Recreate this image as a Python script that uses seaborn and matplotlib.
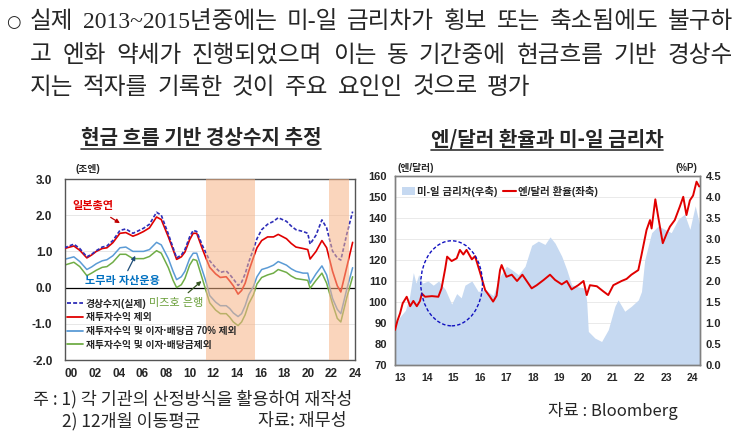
import numpy as np
import pandas as pd
import matplotlib
matplotlib.use("Agg")
import matplotlib.pyplot as plt
import seaborn as sns
from matplotlib.patches import Ellipse, Patch
from matplotlib.lines import Line2D

# --- left chart: cash-flow based current account (trillion yen, 12m avg) ---
cf_year = [1999.4, 2000.2, 2000.7, 2001.3, 2001.7, 2002.1, 2002.6, 2003.0, 2003.5, 2004.1,
           2004.6, 2005.2, 2005.6, 2006.1, 2006.6, 2007.2, 2007.6, 2008.2, 2008.6, 2008.9,
           2009.3, 2009.6, 2010.0, 2010.3, 2010.6, 2011.1, 2011.4, 2011.7, 2012.2, 2012.6,
           2013.1, 2013.4, 2013.7, 2014.1, 2014.4, 2014.7, 2015.0, 2015.4, 2015.7, 2016.1,
           2016.6, 2017.1, 2017.5, 2018.2, 2018.6, 2019.0, 2019.6, 2020.0, 2020.2, 2020.7,
           2021.2, 2021.6, 2022.1, 2022.5, 2022.8, 2023.3, 2023.8]
ca_actual = [1.10, 1.20, 1.08, 0.85, 0.92, 1.02, 1.12, 1.15, 1.30, 1.58,
             1.62, 1.50, 1.56, 1.64, 1.75, 2.08, 2.00, 1.48, 1.10, 0.82,
             0.90, 1.05, 1.40, 1.58, 1.55, 1.15, 0.95, 0.74, 0.55, 0.42,
             0.46, 0.36, 0.24, 0.06, 0.15, 0.38, 0.70, 1.06, 1.35, 1.60,
             1.75, 1.83, 1.93, 1.83, 1.70, 1.60, 1.55, 1.50, 1.20, 1.45,
             1.87, 1.65, 1.01, 0.82, 0.76, 1.47, 2.10]
ca_ex_reinv = [1.08, 1.15, 1.03, 0.82, 0.90, 1.00, 1.08, 1.10, 1.24, 1.50,
               1.52, 1.42, 1.47, 1.55, 1.65, 1.95, 1.88, 1.40, 1.05, 0.78,
               0.85, 0.98, 1.32, 1.50, 1.50, 1.05, 0.80, 0.56, 0.38, 0.28,
               0.30, 0.18, 0.05, -0.18, -0.08, 0.12, 0.45, 0.83, 1.10, 1.30,
               1.40, 1.40, 1.47, 1.35, 1.22, 1.12, 1.08, 1.05, 0.79, 1.00,
               1.30, 1.10, 0.45, 0.05, -0.12, 0.56, 1.25]
ca_ex_70 = [0.78, 0.85, 0.72, 0.50, 0.57, 0.66, 0.74, 0.77, 0.88, 1.10,
            1.12, 1.00, 1.00, 1.00, 1.05, 1.25, 1.18, 0.80, 0.45, 0.22,
            0.30, 0.45, 0.80, 0.95, 0.95, 0.45, 0.15, -0.22, -0.40, -0.50,
            -0.50, -0.58, -0.70, -0.80, -0.72, -0.50, -0.20, 0.03, 0.30, 0.50,
            0.55, 0.62, 0.72, 0.62, 0.52, 0.45, 0.40, 0.40, 0.12, 0.38,
            0.60, 0.35, -0.30, -0.60, -0.72, -0.05, 0.55]
ca_ex_all = [0.62, 0.70, 0.58, 0.33, 0.40, 0.48, 0.56, 0.58, 0.70, 0.92,
             0.92, 0.80, 0.80, 0.80, 0.86, 1.02, 0.95, 0.55, 0.20, 0.00,
             0.08, 0.25, 0.62, 0.78, 0.75, 0.22, -0.10, -0.42, -0.62, -0.72,
             -0.72, -0.82, -0.95, -1.05, -0.95, -0.75, -0.45, -0.20, 0.10, 0.28,
             0.35, 0.40, 0.50, 0.42, 0.32, 0.25, 0.22, 0.20, -0.02, 0.20,
             0.40, 0.12, -0.45, -0.85, -0.95, -0.28, 0.30]
shade_periods = [(2011.4, 2015.5), (2021.8, 2023.5)]
left_xticks = list(range(2000, 2025, 2))
left_xlabels = ["%02d" % (y % 100) for y in left_xticks]
cf_labels = ["경상수지(실제)", "재투자수익 제외",
             "재투자수익 및 이자·배당금 70% 제외", "재투자수익 및 이자·배당금제외"]

# --- right chart: USD/JPY and US-JP rate spread ---
spread_year = [2012.82, 2013.0, 2013.2, 2013.35, 2013.5, 2013.6, 2013.7, 2013.85, 2014.05, 2014.25,
               2014.45, 2014.7, 2014.94, 2015.13, 2015.3, 2015.44, 2015.7, 2015.94, 2016.2, 2016.5,
               2016.75, 2017.0, 2017.2, 2017.45, 2017.7, 2017.95, 2018.2, 2018.45, 2018.64, 2018.83,
               2019.08, 2019.27, 2019.45, 2019.7, 2019.95, 2020.02, 2020.08, 2020.33, 2020.58, 2020.83,
               2021.08, 2021.2, 2021.45, 2021.7, 2021.96, 2022.08, 2022.2, 2022.46, 2022.71, 2022.96,
               2023.2, 2023.46, 2023.7, 2023.9, 2024.1, 2024.28]
spread = [0.95, 1.15, 1.30, 1.60, 2.20, 1.95, 2.15, 1.95, 2.00, 1.90,
          2.00, 1.80, 1.45, 1.70, 1.60, 1.90, 2.00, 1.75, 1.80, 1.65,
          2.10, 2.35, 2.27, 2.15, 2.35, 2.85, 2.95, 2.87, 3.05, 2.90,
          2.59, 2.27, 1.91, 1.86, 1.83, 1.50, 0.80, 0.64, 0.56, 0.84,
          1.40, 1.55, 1.28, 1.40, 1.55, 1.75, 2.50, 3.15, 3.31, 3.23,
          3.15, 3.47, 3.59, 3.23, 3.79, 3.30]
fx_year = [2012.81, 2012.9, 2013.0, 2013.1, 2013.25, 2013.38, 2013.5, 2013.63, 2013.75, 2013.82,
           2013.94, 2014.2, 2014.44, 2014.56, 2014.7, 2014.77, 2014.94, 2015.13, 2015.25, 2015.38,
           2015.5, 2015.7, 2015.82, 2016.0, 2016.2, 2016.38, 2016.5, 2016.63, 2016.76, 2016.82,
           2017.0, 2017.2, 2017.4, 2017.6, 2017.95, 2018.14, 2018.4, 2018.64, 2018.83, 2019.08,
           2019.27, 2019.45, 2019.7, 2019.9, 2020.02, 2020.14, 2020.4, 2020.64, 2020.83, 2021.02,
           2021.33, 2021.52, 2021.7, 2021.96, 2022.08, 2022.27, 2022.4, 2022.46, 2022.6, 2022.71,
           2022.88, 2023.03, 2023.15, 2023.33, 2023.52, 2023.65, 2023.77, 2023.9, 2024.02, 2024.15,
           2024.25]
usdjpy = [86.7, 91.0, 94.6, 99.4, 102.5, 98.0, 100.5, 98.0, 100.5, 104.0,
          102.5, 102.8, 102.5, 106.5, 116.0, 121.6, 119.5, 120.8, 124.8, 122.6,
          124.8, 120.3, 121.8, 114.4, 105.7, 102.5, 100.2, 103.0, 115.2, 117.6,
          112.0, 113.0, 110.0, 113.0, 106.5, 108.0, 110.5, 113.0, 110.5, 108.4,
          110.0, 106.0, 108.0, 110.0, 103.3, 108.0, 107.5, 105.1, 103.3, 108.0,
          110.0, 111.0, 113.0, 115.2, 122.4, 134.3, 139.0, 135.0, 148.9, 140.4,
          128.0, 132.7, 135.9, 139.0, 145.4, 150.1, 141.4, 148.4, 150.7, 157.3,
          155.0]
right_xticks = list(range(2013, 2025))
right_xlabels = ["%02d" % (y % 100) for y in right_xticks]

sns.set_theme(style="white")
plt.rcParams["font.family"] = ["Liberation Sans", "Noto Sans CJK KR", "DejaVu Sans"]
plt.rcParams["axes.unicode_minus"] = False
TOP_FONT = ["Liberation Serif", "Noto Sans CJK KR", "DejaVu Sans"]
KR = ["Noto Sans CJK KR", "DejaVu Sans"]

W, H = 750, 436
fig = plt.figure(figsize=(7.5, 4.36), dpi=100)

def fx(px):
    return px / W

def fy(py):
    return 1 - py / H

# ---------------- left chart ----------------
ax = fig.add_axes([fx(65), fy(360), fx(290), 181 / H])
for y0 in [-1, 1, 2]:
    ax.axhline(y0, color="#E3E3E3", lw=0.6, zorder=0)
ax.axhline(0, color="black", lw=0.9, zorder=1)

sns.lineplot(x=cf_year, y=ca_ex_all, ax=ax, color="#70AD47", lw=1.1, zorder=2)
sns.lineplot(x=cf_year, y=ca_ex_70, ax=ax, color="#5B9BD5", lw=1.1, zorder=2)
sns.lineplot(x=cf_year, y=ca_ex_reinv, ax=ax, color="#E00000", lw=1.2, zorder=3)
sns.lineplot(x=cf_year, y=ca_actual, ax=ax, color="#2E2EB8", lw=1.2, zorder=3,
             linestyle=(0, (2.2, 1.2)))
for a, b in shade_periods:
    ax.axvspan(a, b, color="#F7B385", alpha=0.55, lw=0, zorder=5)

ax.set_xlim(1999.45, 2024.0)
ax.set_ylim(-2, 3)
ax.set_yticks([-2, -1, 0, 1, 2, 3])
ax.set_yticklabels(["%.1f" % v for v in [-2, -1, 0, 1, 2, 3]])
ax.set_xticks(left_xticks)
ax.set_xticklabels(left_xlabels)
ax.tick_params(axis="y", length=0, pad=9, labelsize=8.5)
ax.tick_params(axis="x", length=0, pad=6, labelsize=8.5)
for t in ax.get_xticklabels() + ax.get_yticklabels():
    t.set_fontweight("bold")
for s in ax.spines.values():
    s.set_color("#555555")
    s.set_linewidth(1.0)

handles = [Line2D([], [], color="#2E2EB8", lw=1.3, linestyle=(0, (2.2, 1.2))),
           Line2D([], [], color="#E00000", lw=1.3),
           Line2D([], [], color="#5B9BD5", lw=1.3),
           Line2D([], [], color="#70AD47", lw=1.3)]
leg = ax.legend(handles, cf_labels, loc="upper left", bbox_to_anchor=(0.005, 0.345),
                frameon=False, fontsize=7, handlelength=1.6, handletextpad=0.3,
                labelspacing=0.38, borderpad=0.1, borderaxespad=0)
leg.set_zorder(6)
for t in leg.get_texts():
    t.set_fontweight("bold")

ax.annotate("일본총연", xy=(2004.1, 1.78), xytext=(2001.8, 2.25), color="#E00000",
            fontsize=8, fontweight="bold", ha="center", va="center", zorder=7,
            arrowprops=dict(arrowstyle="-|>", color="#C00000", lw=0.9, mutation_scale=6,
                            shrinkA=4, shrinkB=0))
ax.annotate("노무라 자산운용", xy=(2005.4, 0.88), xytext=(2004.3, 0.17), color="#0070C0",
            fontsize=8, fontweight="bold", ha="center", va="center", zorder=7,
            arrowprops=dict(arrowstyle="-|>", color="#1F4E79", lw=0.9, mutation_scale=6,
                            shrinkA=2, shrinkB=0))
ax.annotate("미즈호 은행", xy=(2011.0, 0.18), xytext=(2008.9, -0.42), color="#6A9F3A",
            fontsize=8, ha="center", va="center", zorder=7,
            arrowprops=dict(arrowstyle="-|>", color="#375623", lw=0.9, mutation_scale=6,
                            shrinkA=2, shrinkB=0))
fig.text(fx(75), fy(169), "(조엔)", fontsize=7, fontweight="bold", va="center")

# ---------------- right chart ----------------
ax2 = fig.add_axes([fx(395), fy(365), fx(305), 189 / H])
ax2.fill_between(spread_year, spread, 0, color="#C6D9F1", lw=0, zorder=1)
ax2.set_ylim(0, 4.5)
ax2.set_yticks(np.arange(0, 4.51, 0.5))
ax2.set_yticklabels(["%.1f" % v for v in np.arange(0, 4.51, 0.5)])
ax2.grid(axis="y", color="#E6E6E6", lw=0.6)
ax2.set_axisbelow(True)

ax2b = ax2.twinx()
ax2.yaxis.tick_right()
ax2b.yaxis.tick_left()
sns.lineplot(x=fx_year, y=usdjpy, ax=ax2b, color="#E00000", lw=1.4, zorder=3)
ax2b.add_patch(Ellipse((2014.94, 108.9), 2.32, 40.5, fill=False, edgecolor="#1010C0",
                       lw=1.0, linestyle=(0, (2.5, 1.5)), zorder=4))
ax2b.set_ylim(70, 160)
ax2b.set_yticks(range(70, 161, 10))
ax2.set_xlim(2012.81, 2024.28)
ax2.set_xticks(right_xticks)
ax2.set_xticklabels(right_xlabels)
ax2.tick_params(axis="x", length=0, pad=6, labelsize=7.5)
ax2.tick_params(axis="y", length=0, pad=4, labelsize=8)
ax2b.tick_params(axis="y", length=0, pad=6, labelsize=8)
for t in ax2.get_xticklabels() + ax2.get_yticklabels() + ax2b.get_yticklabels():
    t.set_fontweight("bold")
for a_ in (ax2, ax2b):
    for s in a_.spines.values():
        s.set_color("#808080")
        s.set_linewidth(1.0)

h2 = [Patch(color="#C6D9F1", lw=0), Line2D([], [], color="#E00000", lw=1.5)]
leg2 = ax2b.legend(h2, ["미-일 금리차(우축)", "엔/달러 환율(좌축)"], loc="upper left",
                   bbox_to_anchor=(0.02, 0.955), ncol=2, frameon=False, fontsize=7.5,
                   handlelength=1.2, handletextpad=0.2, columnspacing=0.6,
                   borderpad=0.1, borderaxespad=0)
for t in leg2.get_texts():
    t.set_fontweight("bold")
fig.text(fx(397), fy(168), "(엔/달러)", fontsize=7, fontweight="bold", va="center")
fig.text(fx(697), fy(168), "(%P)", fontsize=7, fontweight="bold", va="center", ha="right")

# ---------------- titles, text ----------------
t1 = fig.text(fx(201), fy(138), "현금 흐름 기반 경상수지 추정", fontsize=14.5,
              fontweight="bold", ha="center", va="center", family=KR)
t2 = fig.text(fx(547), fy(139), "엔/달러 환율과 미-일 금리차", fontsize=14.5,
              fontweight="bold", ha="center", va="center", family=KR)

fig.text(fx(13), fy(22), "○", fontsize=12, ha="center", va="center", family=["DejaVu Sans"])
lines = [
    (["실제", "2013~2015년중에는", "미-일", "금리차가", "횡보", "또는", "축소됨에도", "불구하"], 22, 733),
    (["고", "엔화", "약세가", "진행되었으며", "이는", "동", "기간중에", "현금흐름", "기반", "경상수"], 56, 733),
    (["지는", "적자를", "기록한", "것이", "주요", "요인인", "것으로", "평가"], 88, 530),
]
line_texts = []
for words, py, right in lines:
    ts = [fig.text(fx(30), fy(py), w, fontsize=17, va="center", family=TOP_FONT) for w in words]
    line_texts.append((ts, right))

fig.text(fx(33), fy(399), "주 : 1) 각 기관의 산정방식을 활용하여 재작성", fontsize=12.5,
         va="center", family=KR)
fig.text(fx(62), fy(421), "2) 12개월 이동평균", fontsize=12.5, va="center", family=KR)
fig.text(fx(258), fy(421), "자료: 재무성", fontsize=12.5, va="center", family=KR)
fig.text(fx(548), fy(411), "자료 : Bloomberg", fontsize=12, va="center", family=KR)

# justify the top paragraph and underline the titles
fig.canvas.draw()
r = fig.canvas.get_renderer()
for ts, right in line_texts:
    widths = [t.get_window_extent(r).width for t in ts]
    gap = (right - 30 - sum(widths)) / (len(ts) - 1)
    x = 30
    for t, w in zip(ts, widths):
        t.set_x(fx(x))
        x += w + gap
for t in (t1, t2):
    bb = t.get_window_extent(r)
    yline = (bb.y0 - 1) / H
    fig.add_artist(Line2D([bb.x0 / W, bb.x1 / W], [yline, yline], color="#333333", lw=1.2))

fig.savefig("out.png", dpi=100)
